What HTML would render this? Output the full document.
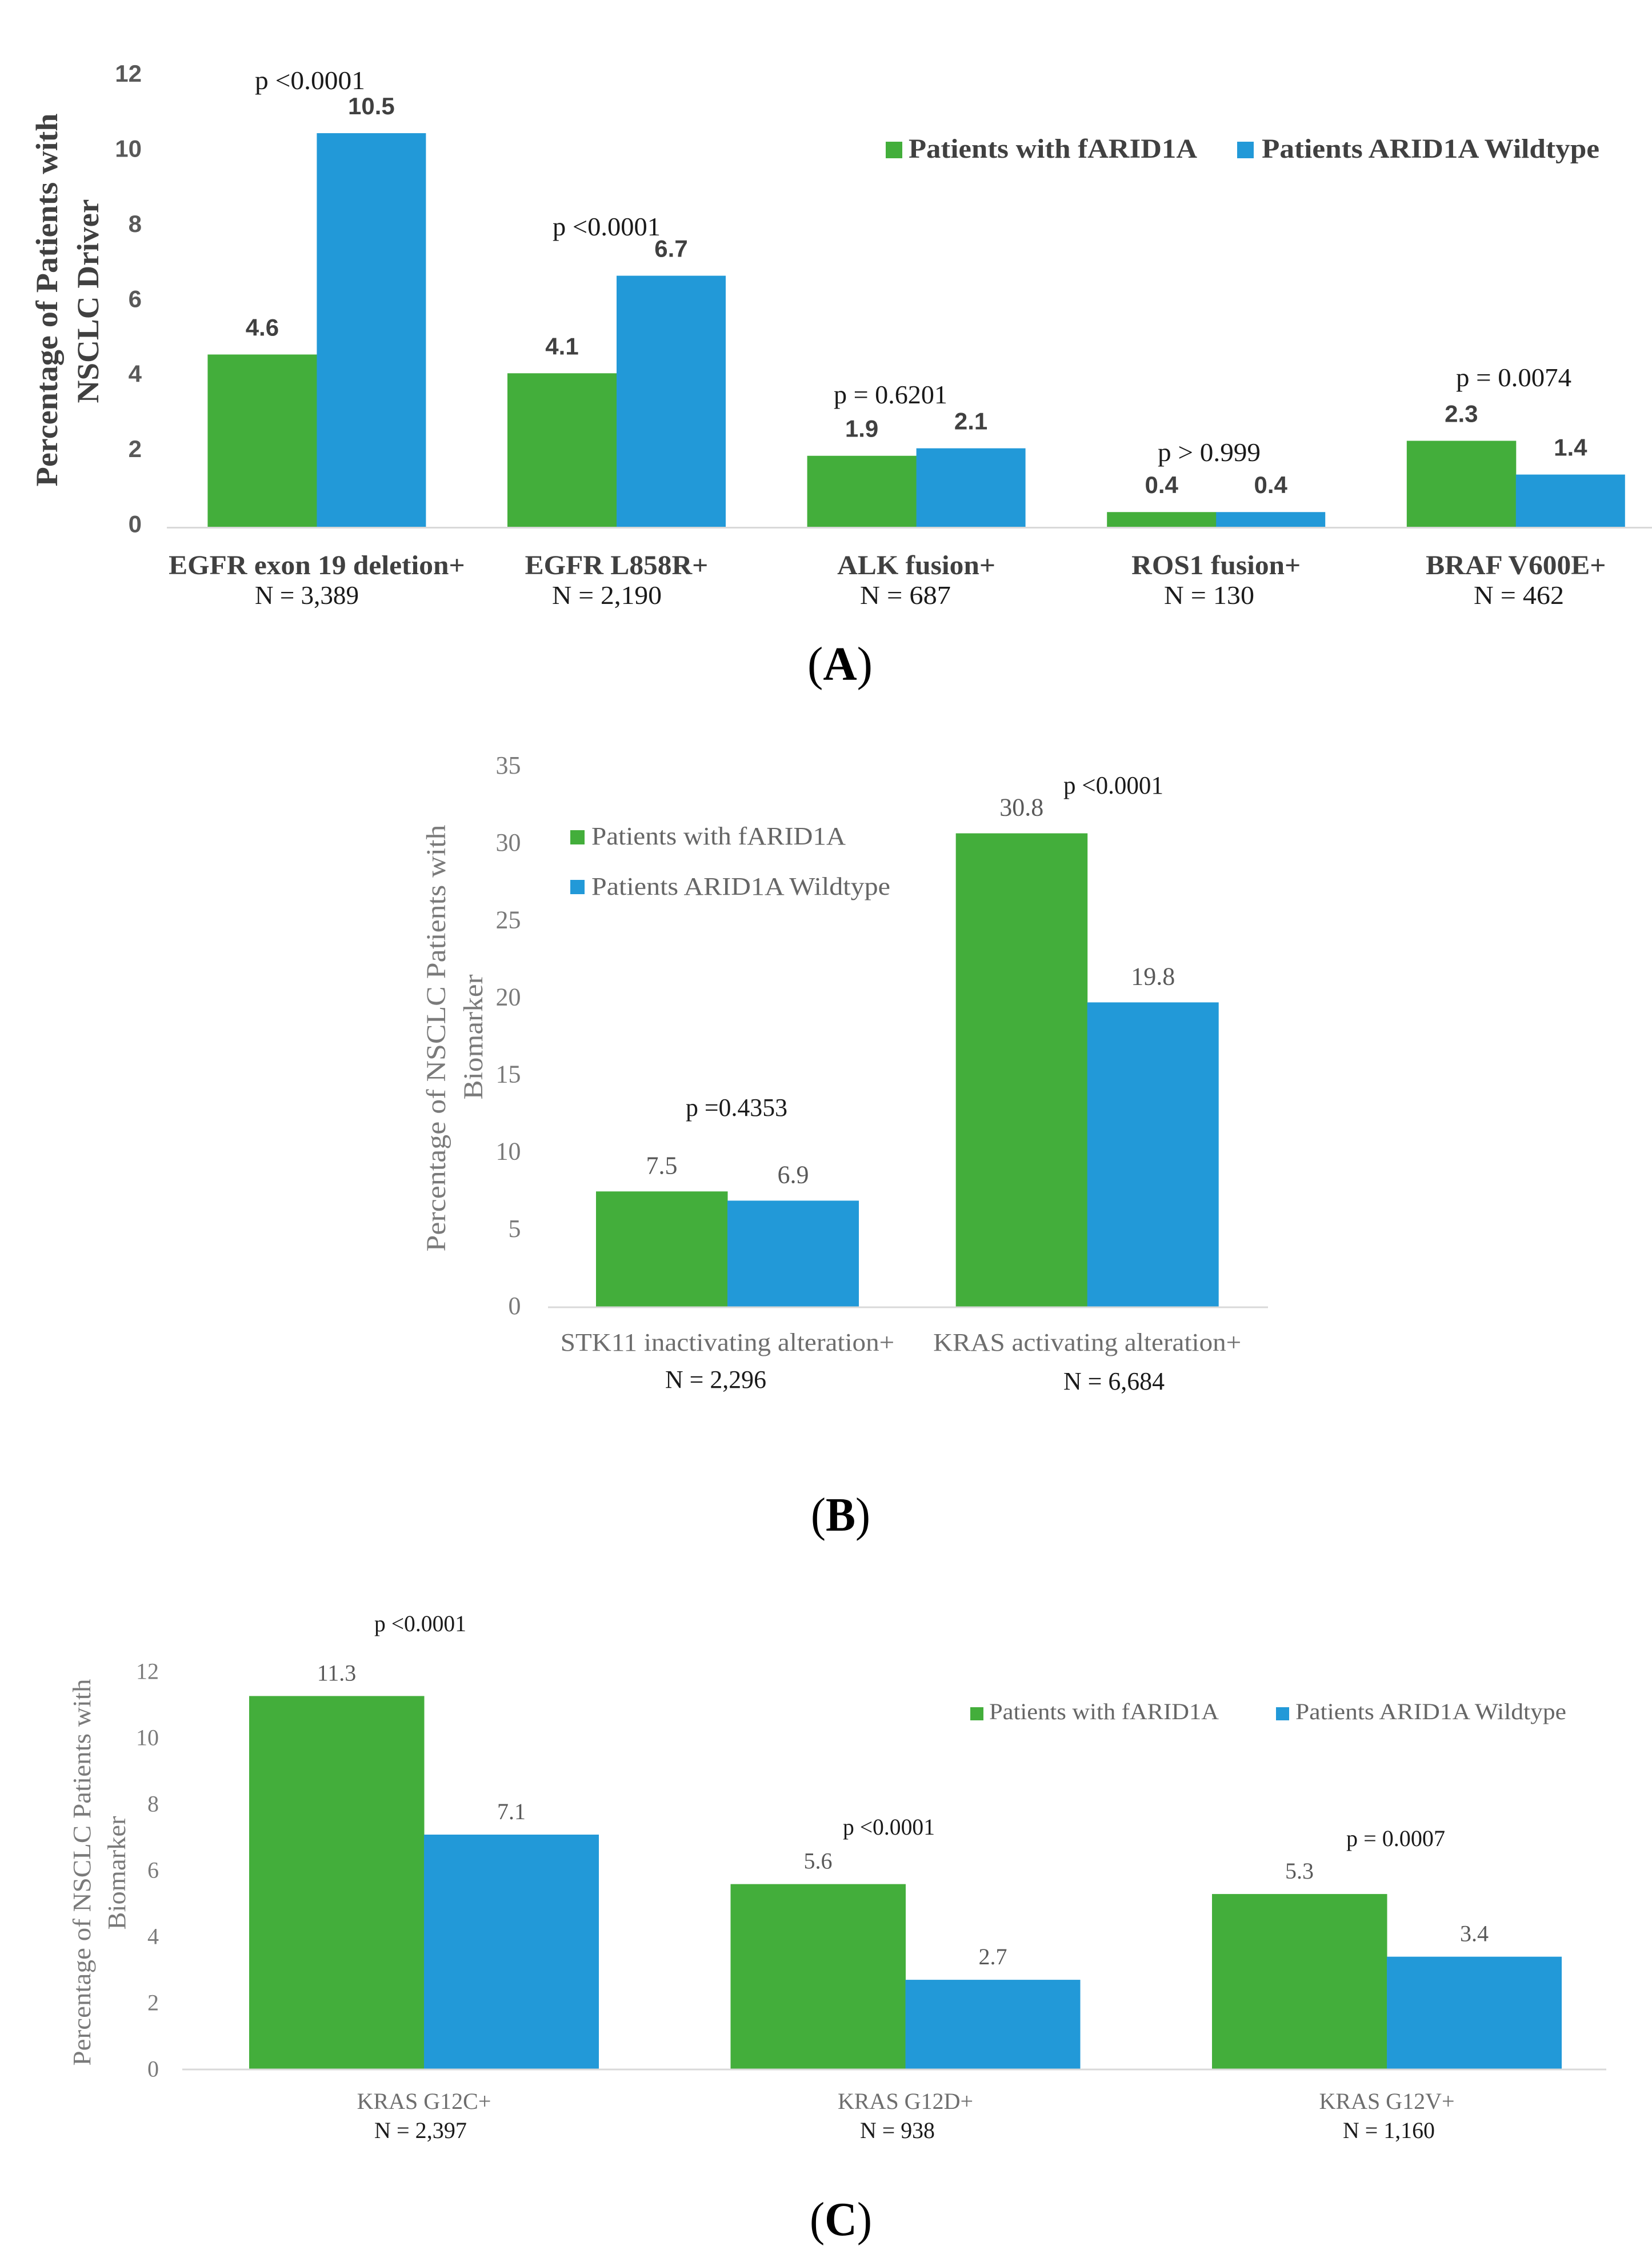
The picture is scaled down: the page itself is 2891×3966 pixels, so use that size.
<!DOCTYPE html>
<html lang="en">
<head>
<meta charset="utf-8">
<title>fARID1A driver and biomarker prevalence charts</title>
<style>
  html, body { margin: 0; padding: 0; background: #ffffff; }
  svg { display: block; }
  .serif { font-family: "Liberation Serif", serif; }
  .sans { font-family: "Liberation Sans", sans-serif; }
</style>
</head>
<body>
<svg id="figure" xmlns="http://www.w3.org/2000/svg" width="2891" height="3966" viewBox="0 0 2891 3966">
  <rect x="0" y="0" width="2891" height="3966" fill="#ffffff"/>

  <!-- PANEL A -->
  <g id="panel-a">
    <g id="plot-a"></g>
    <g class="serif" font-weight="700" font-size="54" fill="#404040">
      <text transform="translate(100,525) rotate(-90)" text-anchor="middle" textLength="653" lengthAdjust="spacingAndGlyphs">Percentage of Patients with</text>
      <text transform="translate(172,527) rotate(-90)" text-anchor="middle" textLength="357" lengthAdjust="spacingAndGlyphs">NSCLC Driver</text>
    </g>
    <g class="serif" font-weight="700" font-size="48" fill="#404040">
      <rect x="1550" y="248" width="29" height="29" fill="#43AE3B"/>
      <text x="1590" y="276" textLength="505" lengthAdjust="spacingAndGlyphs">Patients with fARID1A</text>
      <rect x="2165" y="248" width="29" height="29" fill="#2299D8"/>
      <text x="2208" y="276" textLength="591" lengthAdjust="spacingAndGlyphs">Patients ARID1A Wildtype</text>
    </g>
    <g class="serif" font-size="46" fill="#1a1a1a">
      <text x="446" y="156" textLength="193" lengthAdjust="spacingAndGlyphs">p &lt;0.0001</text>
      <text x="967" y="412" textLength="189" lengthAdjust="spacingAndGlyphs">p &lt;0.0001</text>
      <text x="1459" y="706" textLength="199" lengthAdjust="spacingAndGlyphs">p = 0.6201</text>
      <text x="2026" y="807" textLength="180" lengthAdjust="spacingAndGlyphs">p &gt; 0.999</text>
      <text x="2548" y="676" textLength="202" lengthAdjust="spacingAndGlyphs">p = 0.0074</text>
    </g>
    <g class="serif" font-size="46" fill="#1a1a1a">
      <text x="446" y="1057" textLength="182" lengthAdjust="spacingAndGlyphs">N = 3,389</text>
      <text x="966" y="1057" textLength="192" lengthAdjust="spacingAndGlyphs">N = 2,190</text>
      <text x="1505" y="1057" textLength="159" lengthAdjust="spacingAndGlyphs">N = 687</text>
      <text x="2037" y="1057" textLength="158" lengthAdjust="spacingAndGlyphs">N = 130</text>
      <text x="2579" y="1057" textLength="158" lengthAdjust="spacingAndGlyphs">N = 462</text>
    </g>
    <text class="serif" x="1413" y="1190" font-size="84" fill="#000000" textLength="114" lengthAdjust="spacingAndGlyphs">(<tspan font-weight="700">A</tspan>)</text>
  </g>

  <!-- PANEL B -->
  <g id="panel-b">
    <g id="plot-b"></g>
    <g class="serif" font-size="48" fill="#7a7a7a">
      <text transform="translate(779,1817) rotate(-90)" text-anchor="middle" textLength="747" lengthAdjust="spacingAndGlyphs">Percentage of NSCLC Patients with</text>
      <text transform="translate(844,1815) rotate(-90)" text-anchor="middle" textLength="219" lengthAdjust="spacingAndGlyphs">Biomarker</text>
    </g>
    <g class="serif" font-size="44" fill="#666666">
      <rect x="998" y="1453" width="25" height="25" fill="#43AE3B"/>
      <text x="1035" y="1478" textLength="445" lengthAdjust="spacingAndGlyphs">Patients with fARID1A</text>
      <rect x="998" y="1540" width="25" height="25" fill="#2299D8"/>
      <text x="1035" y="1566" textLength="523" lengthAdjust="spacingAndGlyphs">Patients ARID1A Wildtype</text>
    </g>
    <g class="serif" font-size="44" fill="#1a1a1a">
      <text x="1200" y="1953" textLength="178" lengthAdjust="spacingAndGlyphs">p =0.4353</text>
      <text x="1861" y="1389" textLength="175" lengthAdjust="spacingAndGlyphs">p &lt;0.0001</text>
    </g>
    <g class="serif" font-size="44" fill="#1a1a1a">
      <text x="1164" y="2429" textLength="177" lengthAdjust="spacingAndGlyphs">N = 2,296</text>
      <text x="1861" y="2432" textLength="177" lengthAdjust="spacingAndGlyphs">N = 6,684</text>
    </g>
    <text class="serif" x="1419" y="2679" font-size="84" fill="#000000" textLength="104" lengthAdjust="spacingAndGlyphs">(<tspan font-weight="700">B</tspan>)</text>
  </g>

  <!-- PANEL C -->
  <g id="panel-c">
    <g id="plot-c"></g>
    <g class="serif" font-size="44" fill="#7a7a7a">
      <text transform="translate(158,3277) rotate(-90)" text-anchor="middle" textLength="677" lengthAdjust="spacingAndGlyphs">Percentage of NSCLC Patients with</text>
      <text transform="translate(219,3278) rotate(-90)" text-anchor="middle" textLength="199" lengthAdjust="spacingAndGlyphs">Biomarker</text>
    </g>
    <g class="serif" font-size="40" fill="#666666">
      <rect x="1698" y="2988" width="23" height="23" fill="#43AE3B"/>
      <text x="1731" y="3009" textLength="402" lengthAdjust="spacingAndGlyphs">Patients with fARID1A</text>
      <rect x="2233" y="2988" width="23" height="23" fill="#2299D8"/>
      <text x="2267" y="3009" textLength="474" lengthAdjust="spacingAndGlyphs">Patients ARID1A Wildtype</text>
    </g>
    <g class="serif" font-size="40" fill="#1a1a1a">
      <text x="655" y="2855" textLength="161" lengthAdjust="spacingAndGlyphs">p &lt;0.0001</text>
      <text x="1475" y="3211" textLength="161" lengthAdjust="spacingAndGlyphs">p &lt;0.0001</text>
      <text x="2356" y="3231" textLength="173" lengthAdjust="spacingAndGlyphs">p = 0.0007</text>
    </g>
    <g class="serif" font-size="40" fill="#1a1a1a">
      <text x="655" y="3742" textLength="162" lengthAdjust="spacingAndGlyphs">N = 2,397</text>
      <text x="1505" y="3742" textLength="131" lengthAdjust="spacingAndGlyphs">N = 938</text>
      <text x="2350" y="3742" textLength="161" lengthAdjust="spacingAndGlyphs">N = 1,160</text>
    </g>
    <text class="serif" x="1417" y="3912" font-size="84" fill="#000000" textLength="109" lengthAdjust="spacingAndGlyphs">(<tspan font-weight="700">C</tspan>)</text>
  </g>
</svg>

<script>
// ---- Chart data ----
const categoriesA = ["EGFR exon 19 deletion+", "EGFR L858R+", "ALK fusion+", "ROS1 fusion+", "BRAF V600E+"];
const fArid1aA = [4.6, 4.1, 1.9, 0.4, 2.3];
const wildtypeA = [10.5, 6.7, 2.1, 0.4, 1.4];
const tickLabelsA = [0, 2, 4, 6, 8, 10, 12];

const categoriesB = ["STK11 inactivating alteration+", "KRAS activating alteration+"];
const fArid1aB = [7.5, 30.8];
const wildtypeB = [6.9, 19.8];
const tickLabelsB = [0, 5, 10, 15, 20, 25, 30, 35];

const categoriesC = ["KRAS G12C+", "KRAS G12D+", "KRAS G12V+"];
const fArid1aC = [11.3, 5.6, 5.3];
const wildtypeC = [7.1, 2.7, 3.4];
const tickLabelsC = [0, 2, 4, 6, 8, 10, 12];

const SVG_NS = "http://www.w3.org/2000/svg";
const GREEN = "#43AE3B";
const BLUE = "#2299D8";

function makeEl(tag, parent, props) {
  const el = document.createElementNS(SVG_NS, tag);
  Object.keys(props).forEach(function (k) { el.setAttribute(k, props[k]); });
  parent.appendChild(el);
  return el;
}

function drawBarChart(o) {
  const root = document.getElementById(o.id);
  const yScale = function (v) { return o.baseline - v * o.unit; };
  const tickScale = function (v) { return o.baseline - v * o.tickUnit; };
  const xScale = function (i) { return o.firstBar + i * o.step; };

  // y tick labels
  o.ticks.forEach(function (t) {
    const el = makeEl("text", root, {
      x: o.tickX, y: tickScale(t) + o.tickDy, "text-anchor": "end",
      "font-family": o.tickFont, "font-size": o.tickSize,
      "font-weight": o.tickWeight, fill: o.tickFill
    });
    
    
    el.textContent = String(t);
  });

  // bars, value labels, category labels
  o.categories.forEach(function (cat, i) {
    [[o.seriesA, GREEN, 0, 'farid1a'], [o.seriesB, BLUE, 1, 'wildtype']].forEach(function (s) {
      const v = s[0][i];
      const x = xScale(i) + s[2] * o.barW;
      const y = yScale(v);
      const bar = makeEl("rect", root, {
        x: x, y: y, width: o.barW + (s[2] === 0 ? 0.5 : 0), height: o.baseline - y, fill: s[1]
      });
      
      

      const label = makeEl("text", root, {
        x: x + o.barW / 2, y: y - o.valueGap, "text-anchor": "middle",
        "font-family": o.valueFont, "font-size": o.valueSize,
        "font-weight": o.valueWeight, fill: o.valueFill
      });
      
      
      label.textContent = v.toFixed(1);
    });

    const catLabel = makeEl("text", root, {
      x: xScale(i) + o.barW, y: o.catY, "text-anchor": "middle",
      "font-family": '"Liberation Serif", serif', "font-size": o.catSize,
      "font-weight": o.catWeight, fill: o.catFill
    });
    
    
    catLabel.textContent = cat;
    catLabel.setAttribute('textLength', catLabel.getComputedTextLength() * o.catStretch);
    catLabel.setAttribute('lengthAdjust', 'spacingAndGlyphs');
  });

  // category axis line
  const axis = makeEl("line", root, {
    x1: o.axisStart, x2: o.axisEnd, y1: o.baseline + 1, y2: o.baseline + 1,
    stroke: "#d9d9d9", "stroke-width": 3
  });
  
  
}

drawBarChart({
  id: "plot-a", categories: categoriesA, seriesA: fArid1aA, seriesB: wildtypeA, ticks: tickLabelsA,
  baseline: 922.5, unit: 65.66, tickUnit: 65.7, firstBar: 363.4, step: 524.6, barW: 191,
  axisStart: 292, axisEnd: 2891,
  tickX: 248, tickDy: 9, tickFont: '"Liberation Sans", sans-serif', tickSize: 42, tickWeight: 700, tickFill: "#595959",
  valueGap: 33, valueFont: '"Liberation Sans", sans-serif', valueSize: 42, valueWeight: 700, valueFill: "#404040",
  catY: 1005, catSize: 48, catWeight: 700, catFill: "#404040", catStretch: 1.03
});

drawBarChart({
  id: "plot-b", categories: categoriesB, seriesA: fArid1aB, seriesB: wildtypeB, ticks: tickLabelsB,
  baseline: 2287, unit: 26.9, tickUnit: 27.03, firstBar: 1043, step: 629.7, barW: 230,
  axisStart: 959, axisEnd: 2219,
  tickX: 911.5, tickDy: 13, tickFont: '"Liberation Serif", serif', tickSize: 44, tickWeight: 400, tickFill: "#7a7a7a",
  valueGap: 31, valueFont: '"Liberation Serif", serif', valueSize: 44, valueWeight: 400, valueFill: "#595959",
  catY: 2364, catSize: 44, catWeight: 400, catFill: "#6e6e6e", catStretch: 1.07
});

drawBarChart({
  id: "plot-c", categories: categoriesC, seriesA: fArid1aC, seriesB: wildtypeC, ticks: tickLabelsC,
  baseline: 3621, unit: 57.75, tickUnit: 58, firstBar: 436, step: 842.5, barW: 306,
  axisStart: 319, axisEnd: 2811,
  tickX: 278, tickDy: 13.5, tickFont: '"Liberation Serif", serif', tickSize: 40, tickWeight: 400, tickFill: "#7a7a7a",
  valueGap: 27, valueFont: '"Liberation Serif", serif', valueSize: 40, valueWeight: 400, valueFill: "#595959",
  catY: 3691, catSize: 40, catWeight: 400, catFill: "#6e6e6e", catStretch: 1.0
});
</script>
</body>
</html>
